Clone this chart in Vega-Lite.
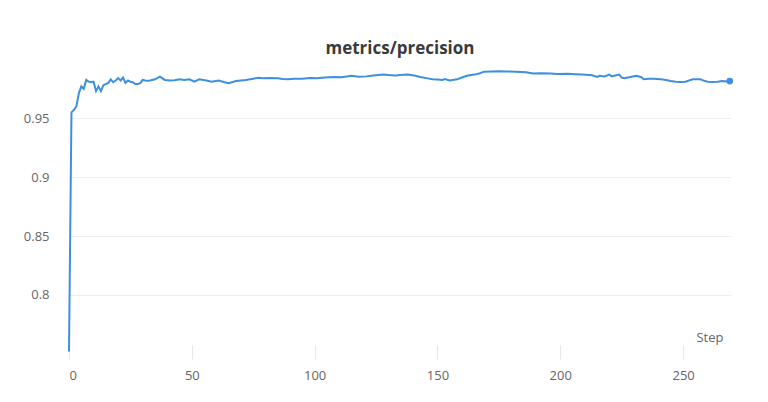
{
  "$schema": "https://vega.github.io/schema/vega-lite/v6.json",
  "width": 662,
  "height": 285,
  "autosize": {"type": "none"},
  "padding": {"left": 69, "top": 60, "right": 37, "bottom": 57},
  "background": "white",
  "config": {"view": {"stroke": null}},
  "title": {
    "text": "metrics/precision",
    "font": "Open Sans",
    "fontSize": 17,
    "fontWeight": "bold",
    "color": "#3a3a3a",
    "anchor": "middle",
    "baseline": "bottom",
    "offset": -15
  },
  "data": {
    "values": [
      {"step": 0, "v": 0.752},
      {"step": 1, "v": 0.955},
      {"step": 2, "v": 0.957},
      {"step": 3, "v": 0.960},
      {"step": 4, "v": 0.971},
      {"step": 5, "v": 0.977},
      {"step": 6, "v": 0.975},
      {"step": 7, "v": 0.9825},
      {"step": 8, "v": 0.981},
      {"step": 9, "v": 0.9805},
      {"step": 10, "v": 0.981},
      {"step": 11, "v": 0.973},
      {"step": 12, "v": 0.977},
      {"step": 13, "v": 0.973},
      {"step": 14, "v": 0.978},
      {"step": 15, "v": 0.979},
      {"step": 16, "v": 0.980},
      {"step": 17, "v": 0.983},
      {"step": 18, "v": 0.9805},
      {"step": 19, "v": 0.982},
      {"step": 20, "v": 0.984},
      {"step": 21, "v": 0.982},
      {"step": 22, "v": 0.9845},
      {"step": 23, "v": 0.980},
      {"step": 24, "v": 0.982},
      {"step": 25, "v": 0.981},
      {"step": 26, "v": 0.9805},
      {"step": 27, "v": 0.979},
      {"step": 28, "v": 0.979},
      {"step": 29, "v": 0.9797},
      {"step": 30, "v": 0.9825},
      {"step": 31, "v": 0.982},
      {"step": 32, "v": 0.9818},
      {"step": 33, "v": 0.982},
      {"step": 35, "v": 0.983},
      {"step": 37, "v": 0.9853},
      {"step": 39, "v": 0.9825},
      {"step": 41, "v": 0.982},
      {"step": 43, "v": 0.9822},
      {"step": 45, "v": 0.983},
      {"step": 47, "v": 0.9825},
      {"step": 49, "v": 0.983},
      {"step": 51, "v": 0.981},
      {"step": 53, "v": 0.983},
      {"step": 56, "v": 0.982},
      {"step": 58, "v": 0.981},
      {"step": 61, "v": 0.982},
      {"step": 63, "v": 0.9808},
      {"step": 65, "v": 0.9797},
      {"step": 68, "v": 0.9815},
      {"step": 70, "v": 0.982},
      {"step": 72, "v": 0.9825},
      {"step": 75, "v": 0.9835},
      {"step": 77, "v": 0.9844},
      {"step": 79, "v": 0.984},
      {"step": 82, "v": 0.9842},
      {"step": 85, "v": 0.984},
      {"step": 87, "v": 0.9832},
      {"step": 89, "v": 0.983},
      {"step": 92, "v": 0.9834},
      {"step": 95, "v": 0.9835},
      {"step": 98, "v": 0.9842},
      {"step": 101, "v": 0.984},
      {"step": 104, "v": 0.9845},
      {"step": 108, "v": 0.985},
      {"step": 111, "v": 0.9848},
      {"step": 115, "v": 0.986},
      {"step": 118, "v": 0.9852},
      {"step": 121, "v": 0.9855},
      {"step": 124, "v": 0.9862},
      {"step": 128, "v": 0.987},
      {"step": 131, "v": 0.9865},
      {"step": 133, "v": 0.9862},
      {"step": 136, "v": 0.9868},
      {"step": 138, "v": 0.987},
      {"step": 141, "v": 0.986},
      {"step": 143, "v": 0.985},
      {"step": 146, "v": 0.9838},
      {"step": 148, "v": 0.983},
      {"step": 150, "v": 0.9828},
      {"step": 152, "v": 0.9825},
      {"step": 153, "v": 0.9832},
      {"step": 155, "v": 0.982},
      {"step": 158, "v": 0.983},
      {"step": 160, "v": 0.9845},
      {"step": 162, "v": 0.986},
      {"step": 165, "v": 0.987},
      {"step": 167, "v": 0.988},
      {"step": 169, "v": 0.9895},
      {"step": 172, "v": 0.9897},
      {"step": 175, "v": 0.9898},
      {"step": 178, "v": 0.9896},
      {"step": 182, "v": 0.9895},
      {"step": 186, "v": 0.989},
      {"step": 189, "v": 0.988},
      {"step": 192, "v": 0.9882},
      {"step": 196, "v": 0.988},
      {"step": 199, "v": 0.9876},
      {"step": 203, "v": 0.9878},
      {"step": 206, "v": 0.9874},
      {"step": 209, "v": 0.987},
      {"step": 213, "v": 0.9865},
      {"step": 215, "v": 0.985},
      {"step": 216, "v": 0.986},
      {"step": 218, "v": 0.9855},
      {"step": 220, "v": 0.987},
      {"step": 221, "v": 0.9855},
      {"step": 222, "v": 0.986},
      {"step": 224, "v": 0.987},
      {"step": 225, "v": 0.9845},
      {"step": 226, "v": 0.984},
      {"step": 229, "v": 0.9852},
      {"step": 231, "v": 0.986},
      {"step": 233, "v": 0.9848},
      {"step": 234, "v": 0.983},
      {"step": 236, "v": 0.9835},
      {"step": 238, "v": 0.9835},
      {"step": 241, "v": 0.983},
      {"step": 243, "v": 0.9825},
      {"step": 245, "v": 0.9815},
      {"step": 247, "v": 0.981},
      {"step": 249, "v": 0.9808},
      {"step": 251, "v": 0.981},
      {"step": 253, "v": 0.9825},
      {"step": 254, "v": 0.983},
      {"step": 257, "v": 0.983},
      {"step": 259, "v": 0.9815},
      {"step": 260, "v": 0.981},
      {"step": 262, "v": 0.9808},
      {"step": 264, "v": 0.981},
      {"step": 266, "v": 0.9815},
      {"step": 268, "v": 0.9812},
      {"step": 269, "v": 0.9815}
    ]
  },
  "layer": [
    {
      "mark": {"type": "line", "color": "#3d8fdf", "strokeWidth": 2, "interpolate": "linear"},
      "encoding": {
        "x": {
          "field": "step",
          "type": "quantitative",
          "scale": {"domain": [0, 269.5], "nice": false, "zero": false},
          "axis": {
            "values": [0, 50, 100, 150, 200, 250],
            "grid": false,
            "domain": false,
            "ticks": true,
            "tickSize": 14,
            "tickColor": "#e6e6e6",
            "tickWidth": 1,
            "labelFont": "Open Sans",
            "labelFontSize": 13,
            "labelColor": "#666666",
            "labelPadding": 10,
            "title": "Step",
            "titleFont": "Open Sans",
            "titleFontSize": 13,
            "titleFontWeight": "normal",
            "titleColor": "#666666",
            "titleAnchor": "end",
            "titleAlign": "right",
            "titleBaseline": "bottom",
            "titleX": 654,
            "titleY": -1
          }
        },
        "y": {
          "field": "v",
          "type": "quantitative",
          "scale": {"domain": [0.7575, 0.9994], "nice": false, "zero": false},
          "axis": {
            "values": [0.8, 0.85, 0.9, 0.95],
            "format": "~g",
            "grid": true,
            "gridColor": "#eeeeee",
            "gridWidth": 1,
            "domain": false,
            "ticks": false,
            "labelFont": "Open Sans",
            "labelFontSize": 13,
            "labelColor": "#666666",
            "labelPadding": 20,
            "title": null
          }
        }
      }
    },
    {
      "transform": [{"filter": "datum.step == 269"}],
      "mark": {"type": "point", "filled": true, "color": "#3d8fdf", "size": 45, "opacity": 1},
      "encoding": {
        "x": {"field": "step", "type": "quantitative"},
        "y": {"field": "v", "type": "quantitative"}
      }
    }
  ]
}
